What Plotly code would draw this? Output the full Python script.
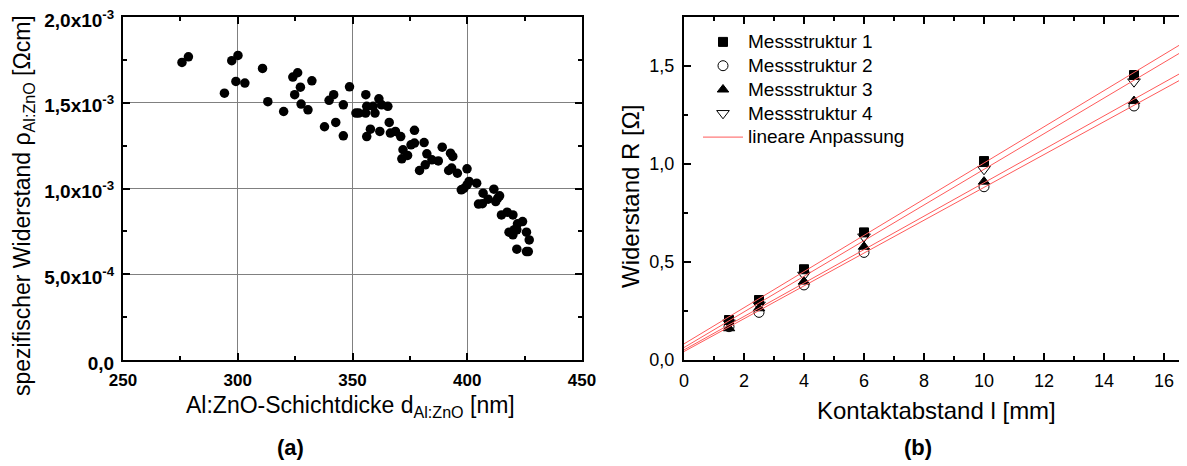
import numpy as np
import plotly.graph_objects as go

# ---- Panel (a): resistivity vs. thickness ----
thickness_nm = [275.7, 278.5, 294.2, 297.4, 300.1, 299.2, 303.1, 310.8, 313.1, 320.0,
                324.0, 326.1, 324.8, 327.3, 327.6, 330.6, 332.3, 337.8, 339.8, 341.8,
                342.7, 346.0, 346.0, 348.7, 351.5, 352.7, 355.8, 355.7, 356.2, 356.2,
                357.8, 359.0, 359.8, 361.5, 361.9, 362.7, 365.4, 366.0, 366.5, 368.7,
                371.0, 371.5, 372.0, 374.0, 375.5, 377.0, 377.0, 381.2, 379.2, 381.7,
                382.4, 384.6, 387.4, 389.1, 391.9, 392.7, 393.7, 393.2, 395.7, 397.4,
                399.9, 399.9, 400.8, 404.1, 404.9, 406.6, 406.9, 409.1, 411.6, 412.4,
                413.3, 414.1, 414.9, 417.4, 419.9, 418.2, 419.9, 421.6, 421.9, 421.6,
                424.1, 425.8, 427.0, 425.8, 426.6, 398.5, 420.5]
resistivity = [1.735e-3, 1.768e-3, 1.556e-3, 1.745e-3, 1.776e-3, 1.624e-3, 1.615e-3, 1.700e-3, 1.506e-3, 1.449e-3,
               1.650e-3, 1.675e-3, 1.547e-3, 1.591e-3, 1.492e-3, 1.459e-3, 1.628e-3, 1.360e-3, 1.514e-3, 1.547e-3,
               1.385e-3, 1.488e-3, 1.307e-3, 1.593e-3, 1.440e-3, 1.440e-3, 1.547e-3, 1.440e-3, 1.479e-3, 1.303e-3,
               1.346e-3, 1.479e-3, 1.440e-3, 1.523e-3, 1.333e-3, 1.488e-3, 1.479e-3, 1.385e-3, 1.323e-3, 1.333e-3,
               1.303e-3, 1.173e-3, 1.226e-3, 1.193e-3, 1.255e-3, 1.265e-3, 1.339e-3, 1.268e-3, 1.105e-3, 1.138e-3,
               1.202e-3, 1.167e-3, 1.161e-3, 1.241e-3, 1.105e-3, 1.206e-3, 1.187e-3, 1.119e-3, 1.089e-3, 0.992e-3,
               1.115e-3, 1.021e-3, 1.041e-3, 1.031e-3, 0.909e-3, 0.911e-3, 0.973e-3, 0.938e-3, 0.996e-3, 0.924e-3,
               0.944e-3, 0.957e-3, 0.846e-3, 0.862e-3, 0.846e-3, 0.745e-3, 0.730e-3, 0.759e-3, 0.794e-3, 0.646e-3,
               0.807e-3, 0.745e-3, 0.700e-3, 0.632e-3, 0.632e-3, 1.000e-3, 0.760e-3]

# ---- Panel (b): resistance vs. contact distance ----
distance_mm = [1.5, 2.5, 4, 6, 10, 15]
R_struct1 = [0.204, 0.306, 0.463, 0.651, 1.015, 1.454]
R_struct2 = [0.170, 0.243, 0.383, 0.549, 0.884, 1.296]
R_struct3 = [0.162, 0.264, 0.400, 0.578, 0.910, 1.321]
R_struct4 = [0.190, 0.281, 0.434, 0.629, 0.973, 1.420]
struct_names = ["Messstruktur 1", "Messstruktur 2", "Messstruktur 3", "Messstruktur 4"]
fit_name = "lineare Anpassung"

a_yticks = [0, 5e-4, 1e-3, 1.5e-3, 2e-3]
a_yticktext = ["0,0", "5,0x10<sup>-4</sup>", "1,0x10<sup>-3</sup>",
               "1,5x10<sup>-3</sup>", "2,0x10<sup>-3</sup>"]
b_yticks = [0, 0.5, 1.0, 1.5]
b_yticktext = ["0,0", "0,5", "1,0", "1,5"]

# the page body has an 8 px margin: the figure is drawn from (8, 8)
OFF = 8
W, H = 1187 - OFF, 466 - OFF
fig = go.Figure()

fig.add_trace(go.Scatter(x=thickness_nm, y=resistivity, mode="markers",
                         marker=dict(color="black", size=9.5, line=dict(width=0)),
                         xaxis="x", yaxis="y", showlegend=False))

def big(t):
    return '<span style="font-size:19px">' + t + '</span>'

symbols = [("square", 9), ("circle-open", 10), ("triangle-up", 10), ("triangle-down-open", 11)]
series = [R_struct1, R_struct2, R_struct3, R_struct4]
for name, ys, (sym, sz) in zip(struct_names, series, symbols):
    fig.add_trace(go.Scatter(x=distance_mm, y=ys, mode="markers", name=big(name),
                             marker=dict(symbol=sym, color="black", size=sz,
                                         line=dict(color="black", width=1)),
                             xaxis="x2", yaxis="y2"))

xfit = np.array([0.0, 16.8])
for i, ys in enumerate(series):
    k, d = np.polyfit(distance_mm, ys, 1)
    fig.add_trace(go.Scatter(x=xfit, y=k * xfit + d, mode="lines",
                             name=big(fit_name), showlegend=(i == 0),
                             line=dict(color="rgb(255,90,90)", width=1),
                             xaxis="x2", yaxis="y2"))

def px_x(p):
    return (p - OFF) / W

def px_y(p):
    return 1 - (p - OFF) / H

frame = dict(showline=True, linecolor="black", linewidth=2, mirror="ticks",
             ticks="inside", ticklen=7, tickwidth=1.5, tickcolor="black",
             zeroline=False, automargin=False, ticklabeloverflow="allow")

fig.update_layout(
    width=W, height=H, margin=dict(l=0, r=0, t=0, b=0, autoexpand=False),
    paper_bgcolor="white", plot_bgcolor="white",
    font=dict(family="Arial, Liberation Sans", color="black"),
    xaxis=dict(domain=[px_x(123), px_x(582)], range=[250, 450], dtick=50,
               tick0=250, showgrid=True, gridcolor="#808080", gridwidth=1,
               tickfont=dict(size=17, weight="bold"), ticklabelstandoff=4,
               minor=dict(ticks="inside", ticklen=4, dtick=25, tickcolor="black", showgrid=False),
               anchor="y", **frame),
    yaxis=dict(domain=[px_y(360), px_y(17)], range=[0, 2e-3],
               tickvals=a_yticks, ticktext=a_yticktext, showgrid=True,
               gridcolor="#808080", gridwidth=1,
               tickfont=dict(size=19, weight="bold"), ticklabelstandoff=3,
               ticklabelshift=3,
               minor=dict(ticks="inside", ticklen=4, dtick=2.5e-4, tickcolor="black", showgrid=False),
               anchor="x", **frame),
    xaxis2=dict(domain=[px_x(684), 1.0], range=[0, (1187 - 684) / 30.0],
                dtick=2, tick0=0, showgrid=False, tickfont=dict(size=18),
                ticklabelstandoff=3,
                minor=dict(ticks="inside", ticklen=4, dtick=1, tickcolor="black"),
                anchor="y2", **frame),
    yaxis2=dict(domain=[px_y(360), px_y(17)], range=[0, 1.75],
                tickvals=b_yticks, ticktext=b_yticktext, showgrid=False,
                tickfont=dict(size=18), ticklabelstandoff=4,
                minor=dict(ticks="inside", ticklen=4, dtick=0.25, tickcolor="black"),
                anchor="x2", **frame),
    legend=dict(x=px_x(698), y=px_y(25), xanchor="left", yanchor="top",
                font=dict(size=16), bgcolor="rgba(0,0,0,0)", itemwidth=40,
                tracegroupgap=0),
)

ann = [
    dict(text="spezifischer Widerstand ρ<sub>Al:ZnO</sub> [Ωcm]", x=px_x(23), y=px_y(206),
         textangle=-90, font=dict(size=23)),
    dict(text="Al:ZnO-Schichtdicke d<sub>Al:ZnO</sub> [nm]", x=px_x(350), y=px_y(406),
         font=dict(size=23)),
    dict(text="<b>(a)</b>", x=px_x(290), y=px_y(447), font=dict(size=22)),
    dict(text="Widerstand R [Ω]", x=px_x(630), y=px_y(197), textangle=-90,
         font=dict(size=24)),
    dict(text="Kontaktabstand l [mm]", x=px_x(936), y=px_y(410), font=dict(size=24)),
    dict(text="<b>(b)</b>", x=px_x(918), y=px_y(447), font=dict(size=22)),
]
for a in ann:
    a.update(xref="paper", yref="paper", showarrow=False, xanchor="center", yanchor="middle")
fig.update_layout(annotations=ann)

fig.write_html("out.html")
